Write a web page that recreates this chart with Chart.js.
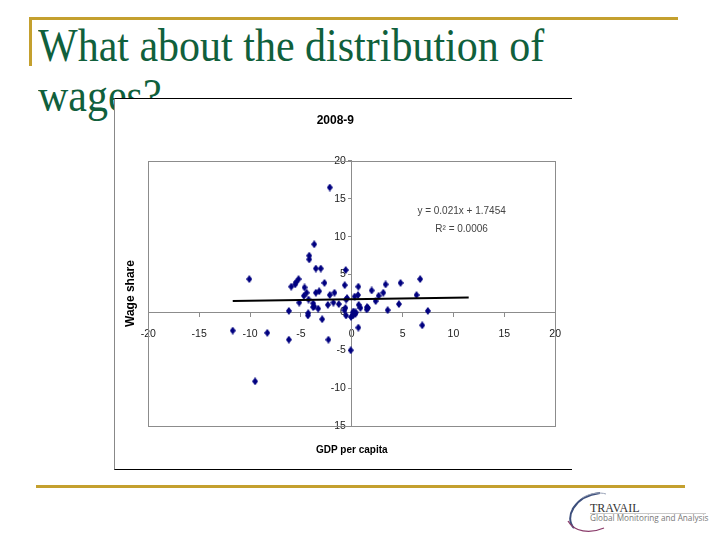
<!DOCTYPE html>
<html>
<head>
<meta charset="utf-8">
<script src="https://cdn.jsdelivr.net/npm/chart.js@4"></script>
<style>
  body { margin: 0; width: 720px; height: 540px; background: #fff; overflow: hidden; position: relative; }
  .gold { position: absolute; background: #c4a02e; }
  #title { position: absolute; left: 38px; top: 20.5px; font-family: "Liberation Serif", "Times New Roman", serif;
           font-size: 42px; line-height: 44.7px; color: #10603c; white-space: nowrap;
           transform: scaleY(1.11); transform-origin: 0 0; }
  #box { position: absolute; left: 114px; top: 98px; width: 458px; height: 372px; box-sizing: border-box;
         background: #fff; border-top: 1px solid #000; border-bottom: 1px solid #000; border-left: 1px solid #888; }
  #logo { position: absolute; left: 560px; top: 488px; }
</style>
</head>
<body>
<div class="gold" style="left:29px;top:17px;width:649px;height:3px"></div>
<div class="gold" style="left:29px;top:17px;width:3px;height:49px"></div>
<div id="title">What about the distribution of<br>wages?</div>
<div id="box"><canvas id="scatter" width="457" height="370"></canvas></div>
<div class="gold" style="left:36px;top:485px;width:649px;height:3px"></div>
<svg id="logo" width="160" height="50" viewBox="0 0 160 50">
  <path d="M14 40 C 4 30, 14 8, 40 5" fill="none" stroke="#3d4f7c" stroke-width="2"/>
  <path d="M8 33 C 14 44, 30 46, 44 40" fill="none" stroke="#8a3b6a" stroke-width="1.2"/>
  <path d="M22 10 C 30 5, 40 4, 46 6" fill="none" stroke="#9aa3b8" stroke-width="1"/>
  <text x="30" y="24" font-family="Liberation Serif, serif" font-size="12" fill="#333">TRAVAIL</text>
  <line x1="30" y1="25.5" x2="146" y2="25.5" stroke="#bbb" stroke-width="0.8"/>
  <text x="30" y="33" font-family="Open Sans, sans-serif" font-size="8.2" fill="#777">Global Monitoring and Analysis</text>
</svg>
<script>
// 2008-9: GDP per capita change (x) vs wage share change (y)
const gdpPerCapita = [-2.16, -3.69, -4.18, -4.18, -3.53, -3.04, -0.59, -10.07, -5.23, -5.46,
  -5.56, -5.95, -2.68, -0.69, -4.64, 0.65, 3.33, 4.80, 6.73, 1.96,
  3.10, 2.65, -4.44, -3.53, -3.2, -1.7, -2.16, -4.7, -4.25, -0.46,
  0.29, 0.62, 6.37, 2.35, -5.16, -3.79, -2.35, -1.8, -1.27, 0.69,
  1.5, 1.6, 4.64, -3.79, -3.3, -0.62, 0.85, -6.18, -4.28, -4.31,
  -0.56, 0.2, 0.36, 0.13, 1.47, 3.53, 7.48, -2.91, 0.65, 6.93,
  -11.7, -8.3, -6.18, -2.29, -0.1, -9.5, -0.55, -0.72, 0.1, 0.4, -0.07, -3.7];
const wageShare = [16.5, 9.0, 7.5, 7.0, 5.8, 5.8, 5.6, 4.4, 4.4, 4.0,
  3.7, 3.4, 3.9, 3.6, 3.3, 3.4, 3.7, 3.9, 4.4, 2.9,
  2.6, 2.2, 2.6, 2.6, 2.8, 2.6, 2.3, 2.2, 1.7, 1.9,
  2.1, 2.3, 2.3, 1.5, 1.3, 1.2, 1.0, 1.3, 1.1, 1.0,
  0.7, 0.6, 1.1, 0.7, 0.5, 0.6, 0.6, 0.2, -0.1, -0.4,
  -0.4, 0.1, -0.2, -0.4, 0.4, 0.3, 0.2, -0.9, -2.0, -1.7,
  -2.4, -2.7, -3.6, -3.6, -5.0, -9.1, 1.7, 0.3, 0.0, 0.0, -0.6, 0.8];
const slope = 0.021, intercept = 1.7454;
const trendRange = [-11.7, 11.5];
const xTicks = [-20, -15, -10, -5, 0, 5, 10, 15, 20];
const yTicks = [-15, -10, -5, 0, 5, 10, 15, 20];

const sans = '"Liberation Sans", Arial, sans-serif';

// narrow diamond marker like the Excel one
const diamond = document.createElement('canvas');
diamond.width = 6; diamond.height = 8;
const dctx = diamond.getContext('2d');
dctx.fillStyle = '#000080';
dctx.beginPath();
dctx.moveTo(3, 0); dctx.lineTo(6, 4); dctx.lineTo(3, 8); dctx.lineTo(0, 4);
dctx.closePath(); dctx.fill();

const frame = {
  id: 'frame',
  beforeDatasetsDraw(chart) {
    const a = chart.chartArea, ctx = chart.ctx;
    ctx.save();
    ctx.strokeStyle = '#8c8c8c';
    ctx.lineWidth = 1;
    ctx.strokeRect(Math.round(a.left) + 0.5, Math.round(a.top) + 0.5,
      Math.round(a.right - a.left), Math.round(a.bottom - a.top));
    ctx.restore();
  },
  afterDatasetsDraw(chart) {
    const ctx = chart.ctx, x = chart.scales.x, y = chart.scales.y;
    ctx.save();
    ctx.fillStyle = '#444';
    ctx.font = '10px ' + sans;
    ctx.textAlign = 'center';
    ctx.textBaseline = 'middle';
    ctx.fillText('y = 0.021x + 1.7454', x.getPixelForValue(10.8), y.getPixelForValue(13.3));
    ctx.fillText('R² = 0.0006', x.getPixelForValue(10.8), y.getPixelForValue(11.0));
    ctx.restore();
  }
};

new Chart(document.getElementById('scatter'), {
  type: 'scatter',
  data: {
    datasets: [
      {
        label: 'Linear trend',
        data: trendRange.map(v => ({x: v, y: slope * v + intercept})),
        showLine: true,
        borderColor: '#000',
        borderWidth: 2,
        pointRadius: 0
      },
      {
        label: 'Countries',
        data: gdpPerCapita.map((v, i) => ({x: v, y: wageShare[i]})),
        pointStyle: diamond,
        pointRadius: 4,
        backgroundColor: '#000080',
        borderColor: '#000080'
      }
    ]
  },
  options: {
    responsive: false,
    animation: false,
    events: [],
    layout: { padding: { left: 0, right: 16.3, top: 0, bottom: 0 } },
    plugins: {
      legend: { display: false },
      tooltip: { enabled: false },
      title: {
        display: true,
        text: '2008-9',
        color: '#000',
        font: { family: sans, size: 12, weight: 'bold' },
        padding: { top: 14.8, bottom: 32.8 }
      }
    },
    scales: {
      x: {
        type: 'linear',
        min: -20, max: 20,
        position: { y: 0 },
        afterBuildTicks: s => { s.ticks = xTicks.map(v => ({value: v})); },
        grid: { drawOnChartArea: false, tickLength: 4, color: '#8c8c8c' },
        border: { color: '#8c8c8c' },
        ticks: { color: '#222', padding: 11, maxRotation: 0, font: { family: sans, size: 10.5 } }
      },
      y: {
        type: 'linear',
        min: -15, max: 20,
        position: { x: 0 },
        afterBuildTicks: s => { s.ticks = yTicks.map(v => ({value: v})); },
        grid: { drawOnChartArea: false, tickLength: 3, color: '#8c8c8c' },
        border: { color: '#8c8c8c' },
        ticks: { color: '#222', padding: 3, font: { family: sans, size: 10.5 },
                 callback: v => v + '  ' }
      },
      xt: {
        type: 'linear',
        position: 'bottom',
        grid: { display: false, drawTicks: false },
        border: { display: false },
        ticks: { display: false },
        title: { display: true, text: 'GDP per capita', color: '#000',
                 font: { family: sans, size: 10, weight: 'bold' }, padding: { top: 18, bottom: 13 } }
      },
      yt: {
        type: 'linear',
        position: 'left',
        grid: { display: false, drawTicks: false },
        border: { display: false },
        ticks: { display: false },
        title: { display: true, text: 'Wage share', color: '#000',
                 font: { family: sans, size: 12, weight: 'bold' }, padding: { top: 8.5, bottom: 10.4 } }
      }
    }
  },
  plugins: [frame]
});
</script>
</body>
</html>
